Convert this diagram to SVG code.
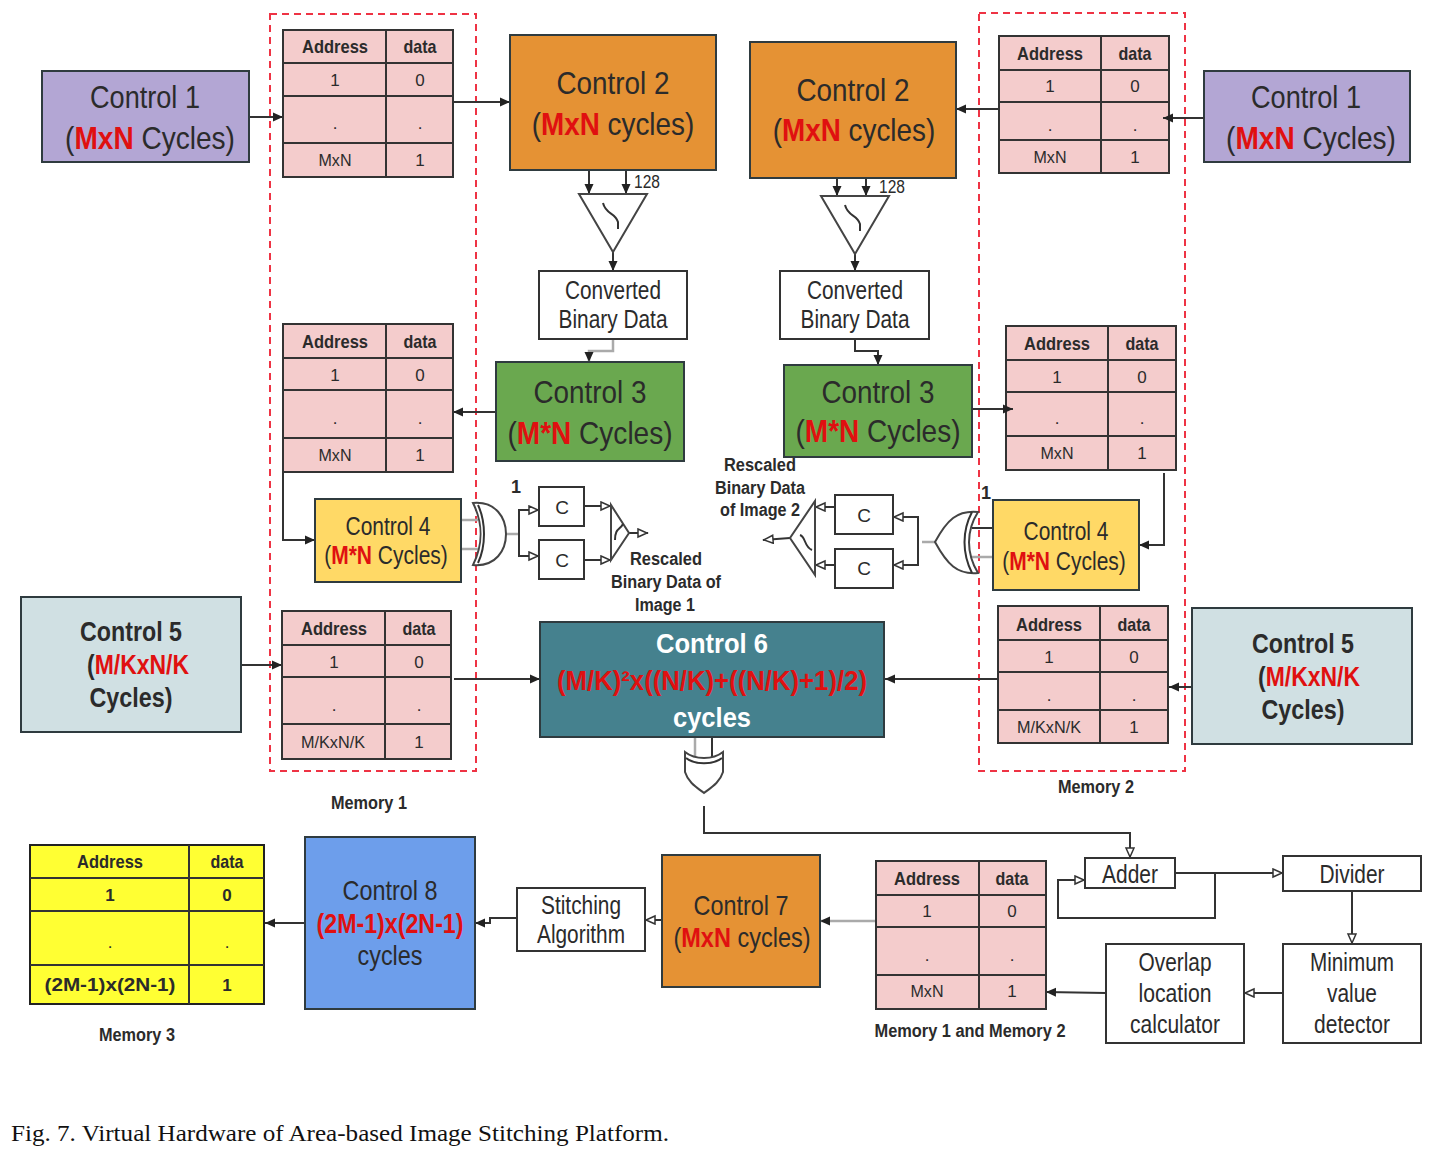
<svg xmlns="http://www.w3.org/2000/svg" width="1441" height="1150" viewBox="0 0 1441 1150">
<style>
text{font-family:"Liberation Sans",Arial,sans-serif;fill:#2b2b2b;text-anchor:middle}
.n{stroke:#2f3b3f;stroke-width:2}
.t{fill:#f4cccc;stroke:#333;stroke-width:2}
.y{fill:#ffff33;stroke:#222;stroke-width:2}
.g{fill:none;stroke:#333;stroke-width:2}
.c{fill:none;stroke:#333;stroke-width:2}
.lg{fill:none;stroke:#aaa;stroke-width:2.5}
.dash{fill:none;stroke:#ee3344;stroke-width:2;stroke-dasharray:7 5}
.h{font-size:19px;font-weight:bold}
.v{font-size:17px}
.xl{font-size:32px}
.l{font-size:25px}
.m{font-size:27px}
.s{font-size:28px}
.b{font-weight:bold}
.r{fill:#e01010;font-weight:bold}
.lab{font-size:18px;font-weight:bold}
.w{fill:#fff;font-weight:bold}
.box{fill:#fff;stroke:#333;stroke-width:2}
.gate{fill:#fff;stroke:#444;stroke-width:2}
</style>
<defs>
<marker id="a" markerWidth="11" markerHeight="11" refX="10" refY="5" orient="auto" markerUnits="userSpaceOnUse"><path d="M0 0.5L10 5L0 9.5Z" fill="#222"/></marker>
<marker id="o" markerWidth="12" markerHeight="12" refX="11" refY="5" orient="auto" markerUnits="userSpaceOnUse"><path d="M1 1L10 5L1 9Z" fill="#fff" stroke="#333" stroke-width="1.5"/></marker>
</defs>
<rect width="1441" height="1150" fill="#fff"/>
<g id="memory-bounds">
<rect class="dash" x="270" y="14" width="206" height="757"/>
<rect class="dash" x="979" y="13" width="206" height="758"/>
</g>
<g id="connectors">
<path class="c" marker-end="url(#a)" d="M249 117H283"/>
<path class="c" marker-end="url(#a)" d="M453 102H510"/>
<path class="c" marker-end="url(#a)" d="M589 170V194"/>
<path class="c" marker-end="url(#a)" d="M626 170V194"/>
<path class="c" marker-end="url(#a)" d="M613 252V271"/>
<path class="lg" marker-end="url(#a)" d="M613 339V351H589V362"/>
<path class="c" marker-end="url(#a)" d="M496 412H453"/>
<path class="c" marker-end="url(#a)" d="M283 472V540H315"/>
<path class="c" marker-end="url(#a)" d="M241 665H282"/>
<path class="c" marker-end="url(#a)" d="M454 679H540"/>
<path class="c" marker-end="url(#a)" d="M998 679H885"/>
<path class="c" marker-end="url(#a)" d="M1192 687H1169"/>
<path class="c" marker-end="url(#a)" d="M1164 473V545H1139"/>
<path class="c" marker-end="url(#a)" d="M999 109H956"/>
<path class="c" marker-end="url(#a)" d="M837 178V196"/>
<path class="c" marker-end="url(#a)" d="M866 178V196"/>
<path class="c" marker-end="url(#a)" d="M855 254V271"/>
<path class="c" marker-end="url(#a)" d="M855 339V351H878V365"/>
<path class="lg" d="M461 520H478M461 549H478M506 534H518"/>
<path class="c" marker-end="url(#o)" d="M519 534V510H539"/>
<path class="c" marker-end="url(#o)" d="M519 534V556H539"/>
<path class="c" marker-end="url(#o)" d="M584 506H611"/>
<path class="c" marker-end="url(#o)" d="M584 560H611"/>
<path class="c" marker-end="url(#o)" d="M629 533H648"/>
<path class="c" d="M972 528H993"/>
<path class="lg" d="M972 557H993M922 542H935"/>
<path class="c" marker-end="url(#o)" d="M918 542V517H893"/>
<path class="c" marker-end="url(#o)" d="M918 542V565H893"/>
<path class="c" marker-end="url(#o)" d="M835 507H815"/>
<path class="c" marker-end="url(#o)" d="M835 565H815"/>
<path class="c" marker-end="url(#o)" d="M790 538L763 540"/>
<path class="lg" d="M695 737V757"/>
<path class="c" d="M712 737V757"/>
<path class="c" marker-end="url(#o)" d="M704 806V833H1130V858"/>
<path class="c" marker-end="url(#o)" d="M1175 873H1283"/>
<path class="c" marker-end="url(#o)" d="M1215 873V918H1058V880H1085"/>
<path class="c" marker-end="url(#o)" d="M1352 891V944"/>
<path class="c" marker-end="url(#o)" d="M1283 993H1244"/>
<path class="c" marker-end="url(#a)" d="M1106 993L1046 992"/>
<path class="lg" marker-end="url(#a)" d="M876 921H820"/>
<path class="c" marker-end="url(#o)" d="M662 920H645"/>
<path class="c" marker-end="url(#a)" d="M517 918H490V923H475"/>
<path class="c" marker-end="url(#a)" d="M305 923H265"/>
</g>
<g id="control1-left"><rect class="n" x="42" y="71" width="207" height="91" fill="#b3a6d4"/><text class="xl" x="145" y="108" textLength="110" lengthAdjust="spacingAndGlyphs">Control 1</text><text class="xl" transform="translate(150 149) scale(.877 1)">(<tspan class="r">MxN</tspan> Cycles)</text></g>
<g id="control1-right"><rect class="n" x="1204" y="71" width="206" height="91" fill="#b3a6d4"/><text class="xl" x="1306" y="108" textLength="110" lengthAdjust="spacingAndGlyphs">Control 1</text><text class="xl" transform="translate(1311 149) scale(.877 1)">(<tspan class="r">MxN</tspan> Cycles)</text></g>
<g id="control2-left"><rect class="n" x="510" y="35" width="206" height="135" fill="#e59234"/><text class="xl" x="613" y="94" textLength="113" lengthAdjust="spacingAndGlyphs">Control 2</text><text class="xl" transform="translate(613 135) scale(.87 1)">(<tspan class="r">MxN</tspan> cycles)</text></g>
<g id="control2-right"><rect class="n" x="750" y="42" width="206" height="136" fill="#e59234"/><text class="xl" x="853" y="101" textLength="113" lengthAdjust="spacingAndGlyphs">Control 2</text><text class="xl" transform="translate(854 141) scale(.87 1)">(<tspan class="r">MxN</tspan> cycles)</text></g>
<g id="dac-left"><path class="gate" d="M579 194H647L613 252Z"/><path class="c" stroke-width="1.5" d="M603 203C606 215 615 212 618 222V229"/><text x="647" y="188" font-size="18" textLength="26" lengthAdjust="spacingAndGlyphs">128</text></g>
<g id="dac-right"><path class="gate" d="M821 196H889L855 254Z"/><path class="c" stroke-width="1.5" d="M845 205C848 217 857 214 860 224V231"/><text x="892" y="193" font-size="18" textLength="26" lengthAdjust="spacingAndGlyphs">128</text></g>
<g id="converted-left"><rect class="box" x="539" y="271" width="148" height="68"/><text class="l" x="613" y="299" textLength="96" lengthAdjust="spacingAndGlyphs">Converted</text><text class="l" x="613" y="328" textLength="109" lengthAdjust="spacingAndGlyphs">Binary Data</text></g>
<g id="converted-right"><rect class="box" x="780" y="271" width="149" height="68"/><text class="l" x="855" y="299" textLength="96" lengthAdjust="spacingAndGlyphs">Converted</text><text class="l" x="855" y="328" textLength="109" lengthAdjust="spacingAndGlyphs">Binary Data</text></g>
<g id="control3-left"><rect class="n" x="496" y="362" width="188" height="99" fill="#6aa84f"/><text class="xl" x="590" y="403" textLength="113" lengthAdjust="spacingAndGlyphs">Control 3</text><text class="xl" transform="translate(590 444) scale(.876 1)">(<tspan class="r">M*N</tspan> Cycles)</text></g>
<g id="control3-right"><rect class="n" x="784" y="365" width="188" height="92" fill="#6aa84f"/><text class="xl" x="878" y="403" textLength="113" lengthAdjust="spacingAndGlyphs">Control 3</text><text class="xl" transform="translate(878 442) scale(.876 1)">(<tspan class="r">M*N</tspan> Cycles)</text></g>
<g id="control4-left"><rect class="n" x="315" y="499" width="146" height="83" fill="#ffd966"/><text class="l" x="388" y="535" textLength="85" lengthAdjust="spacingAndGlyphs">Control 4</text><text class="l" transform="translate(386 564) scale(.84 1)">(<tspan class="r">M*N</tspan> Cycles)</text></g>
<g id="control4-right"><rect class="n" x="993" y="500" width="146" height="90" fill="#ffd966"/><text class="l" x="1066" y="540" textLength="85" lengthAdjust="spacingAndGlyphs">Control 4</text><text class="l" transform="translate(1064 570) scale(.84 1)">(<tspan class="r">M*N</tspan> Cycles)</text></g>
<g id="gate-left"><path class="gate" d="M473 503C496 501 506 518 506 534C506 550 496 567 473 565C483 545 483 523 473 503Z"/><path class="g" stroke-width="1.5" d="M478 505C486 522 486 546 478 563"/></g>
<g id="gate-right"><path class="gate" d="M978 512C957 510 947 520 935 542C947 564 957 575 978 573C966 553 966 531 978 512Z"/><path class="g" d="M972 512C962 531 962 553 972 573"/></g>
<g id="c1"><rect class="box" x="539" y="487" width="45" height="39"/><text x="562" y="514" font-size="19">C</text></g>
<g id="c2"><rect class="box" x="539" y="540" width="45" height="39"/><text x="562" y="567" font-size="19">C</text></g>
<g id="c3"><rect class="box" x="835" y="495" width="58" height="39"/><text x="864" y="522" font-size="19">C</text></g>
<g id="c4"><rect class="box" x="835" y="549" width="58" height="39"/><text x="864" y="575" font-size="19">C</text></g>
<g id="mux-left"><path class="gate" d="M611 505V560L629 533Z"/><path class="c" stroke-width="1.5" d="M615 540C615 528 620 530 623 524"/></g>
<g id="mux-right"><path class="gate" d="M815 501V575L790 538Z"/><path class="c" stroke-width="1.5" d="M800 535C806 537 804 547 812 550"/></g>
<g id="labels-rescale">
<text class="lab" x="516" y="493" textLength="9">1</text>
<text class="lab" x="986" y="499" textLength="9">1</text>
<text class="lab" x="666" y="565" textLength="72" lengthAdjust="spacingAndGlyphs">Rescaled</text>
<text class="lab" x="666" y="588" textLength="110" lengthAdjust="spacingAndGlyphs">Binary Data of</text>
<text class="lab" x="665" y="611" textLength="60" lengthAdjust="spacingAndGlyphs">Image 1</text>
<text class="lab" x="760" y="471" textLength="72" lengthAdjust="spacingAndGlyphs">Rescaled</text>
<text class="lab" x="760" y="494" textLength="90" lengthAdjust="spacingAndGlyphs">Binary Data</text>
<text class="lab" x="760" y="516" textLength="80" lengthAdjust="spacingAndGlyphs">of Image 2</text>
</g>
<g id="control5-left"><rect class="n" x="21" y="597" width="220" height="135" fill="#d0e0e3"/><text class="m b" x="131" y="641" textLength="102" lengthAdjust="spacingAndGlyphs">Control 5</text><text class="m b" transform="translate(138 674) scale(.85 1)">(<tspan class="r">M/KxN/K</tspan></text><text class="m b" x="131" y="707" textLength="83" lengthAdjust="spacingAndGlyphs">Cycles)</text></g>
<g id="control5-right"><rect class="n" x="1192" y="608" width="220" height="136" fill="#d0e0e3"/><text class="m b" x="1303" y="653" textLength="102" lengthAdjust="spacingAndGlyphs">Control 5</text><text class="m b" transform="translate(1309 686) scale(.85 1)">(<tspan class="r">M/KxN/K</tspan></text><text class="m b" x="1303" y="719" textLength="83" lengthAdjust="spacingAndGlyphs">Cycles)</text></g>
<g id="control6"><rect class="n" x="540" y="622" width="344" height="115" fill="#45818e"/><text class="m w" x="712" y="653" textLength="112" lengthAdjust="spacingAndGlyphs">Control 6</text><text class="m r" x="712" y="690" textLength="310" lengthAdjust="spacingAndGlyphs">(M/K)²x((N/K)+((N/K)+1)/2)</text><text class="m w" x="712" y="727" textLength="78" lengthAdjust="spacingAndGlyphs">cycles</text></g>
<g id="xor-bottom"><path class="gate" d="M685 752C695 760 713 760 723 752V772C720 782 712 787 704 793C696 787 688 782 685 772Z"/><path class="g" stroke-width="1.5" d="M686 758C695 765 713 765 722 758"/></g>
<g id="control7"><rect class="n" x="662" y="855" width="158" height="132" fill="#e59234"/><text class="s" x="741" y="915" textLength="95" lengthAdjust="spacingAndGlyphs">Control 7</text><text class="s" transform="translate(742 947) scale(.84 1)">(<tspan class="r">MxN</tspan> cycles)</text></g>
<g id="control8"><rect class="n" x="305" y="837" width="170" height="172" fill="#6d9eeb"/><text class="s" x="390" y="900" textLength="95" lengthAdjust="spacingAndGlyphs">Control 8</text><text class="s r" x="390" y="933" textLength="147" lengthAdjust="spacingAndGlyphs">(2M-1)x(2N-1)</text><text class="s" x="390" y="965" textLength="65" lengthAdjust="spacingAndGlyphs">cycles</text></g>
<g id="stitching"><rect class="box" x="517" y="888" width="128" height="63"/><text class="l" x="581" y="914" textLength="80" lengthAdjust="spacingAndGlyphs">Stitching</text><text class="l" x="581" y="943" textLength="88" lengthAdjust="spacingAndGlyphs">Algorithm</text></g>
<g id="adder"><rect class="box" x="1085" y="858" width="90" height="30"/><text class="l" x="1130" y="883" textLength="56" lengthAdjust="spacingAndGlyphs">Adder</text></g>
<g id="divider"><rect class="box" x="1283" y="856" width="138" height="35"/><text class="l" x="1352" y="883" textLength="65" lengthAdjust="spacingAndGlyphs">Divider</text></g>
<g id="min-detector"><rect class="box" x="1283" y="944" width="138" height="99"/><text class="l" x="1352" y="971" textLength="84" lengthAdjust="spacingAndGlyphs">Minimum</text><text class="l" x="1352" y="1002" textLength="50" lengthAdjust="spacingAndGlyphs">value</text><text class="l" x="1352" y="1033" textLength="76" lengthAdjust="spacingAndGlyphs">detector</text></g>
<g id="overlap"><rect class="box" x="1106" y="944" width="138" height="99"/><text class="l" x="1175" y="971" textLength="73" lengthAdjust="spacingAndGlyphs">Overlap</text><text class="l" x="1175" y="1002" textLength="73" lengthAdjust="spacingAndGlyphs">location</text><text class="l" x="1175" y="1033" textLength="90" lengthAdjust="spacingAndGlyphs">calculator</text></g>
<g id="table-l1"><rect class="t" x="283" y="30" width="170" height="147"/><path class="g" d="M283 63H453M283 96H453M283 143H453M386 30V177"/><text class="h" x="335" y="53" textLength="66" lengthAdjust="spacingAndGlyphs">Address</text><text class="h" x="420" y="53" textLength="33" lengthAdjust="spacingAndGlyphs">data</text><text class="v" x="335" y="86">1</text><text class="v" x="420" y="86">0</text><text class="v" x="335" y="129">.</text><text class="v" x="420" y="129">.</text><text class="v" x="335" y="166" textLength="33" lengthAdjust="spacingAndGlyphs">MxN</text><text class="v" x="420" y="166">1</text></g>
<g id="table-l2"><rect class="t" x="283" y="324" width="170" height="148"/><path class="g" d="M283 358H453M283 390H453M283 438H453M386 324V472"/><text class="h" x="335" y="348" textLength="66" lengthAdjust="spacingAndGlyphs">Address</text><text class="h" x="420" y="348" textLength="33" lengthAdjust="spacingAndGlyphs">data</text><text class="v" x="335" y="381">1</text><text class="v" x="420" y="381">0</text><text class="v" x="335" y="424">.</text><text class="v" x="420" y="424">.</text><text class="v" x="335" y="461" textLength="33" lengthAdjust="spacingAndGlyphs">MxN</text><text class="v" x="420" y="461">1</text></g>
<g id="table-l3"><rect class="t" x="282" y="611" width="169" height="148"/><path class="g" d="M282 645H451M282 677H451M282 724H451M385 611V759"/><text class="h" x="334" y="635" textLength="66" lengthAdjust="spacingAndGlyphs">Address</text><text class="h" x="419" y="635" textLength="33" lengthAdjust="spacingAndGlyphs">data</text><text class="v" x="334" y="668">1</text><text class="v" x="419" y="668">0</text><text class="v" x="334" y="711">.</text><text class="v" x="419" y="711">.</text><text class="v" x="333" y="748" textLength="64" lengthAdjust="spacingAndGlyphs">M/KxN/K</text><text class="v" x="419" y="748">1</text></g>
<g id="table-r1"><rect class="t" x="999" y="36" width="170" height="137"/><path class="g" d="M999 70H1169M999 102H1169M999 140H1169M1101 36V173"/><text class="h" x="1050" y="60" textLength="66" lengthAdjust="spacingAndGlyphs">Address</text><text class="h" x="1135" y="60" textLength="33" lengthAdjust="spacingAndGlyphs">data</text><text class="v" x="1050" y="92">1</text><text class="v" x="1135" y="92">0</text><text class="v" x="1050" y="131">.</text><text class="v" x="1135" y="131">.</text><text class="v" x="1050" y="163" textLength="33" lengthAdjust="spacingAndGlyphs">MxN</text><text class="v" x="1135" y="163">1</text></g>
<g id="table-r2"><rect class="t" x="1006" y="326" width="170" height="144"/><path class="g" d="M1006 360H1176M1006 392H1176M1006 436H1176M1108 326V470"/><text class="h" x="1057" y="350" textLength="66" lengthAdjust="spacingAndGlyphs">Address</text><text class="h" x="1142" y="350" textLength="33" lengthAdjust="spacingAndGlyphs">data</text><text class="v" x="1057" y="383">1</text><text class="v" x="1142" y="383">0</text><text class="v" x="1057" y="424">.</text><text class="v" x="1142" y="424">.</text><text class="v" x="1057" y="459" textLength="33" lengthAdjust="spacingAndGlyphs">MxN</text><text class="v" x="1142" y="459">1</text></g>
<g id="table-r3"><rect class="t" x="998" y="606" width="170" height="137"/><path class="g" d="M998 640H1168M998 672H1168M998 710H1168M1100 606V743"/><text class="h" x="1049" y="631" textLength="66" lengthAdjust="spacingAndGlyphs">Address</text><text class="h" x="1134" y="631" textLength="33" lengthAdjust="spacingAndGlyphs">data</text><text class="v" x="1049" y="663">1</text><text class="v" x="1134" y="663">0</text><text class="v" x="1049" y="701">.</text><text class="v" x="1134" y="701">.</text><text class="v" x="1049" y="733" textLength="64" lengthAdjust="spacingAndGlyphs">M/KxN/K</text><text class="v" x="1134" y="733">1</text></g>
<g id="table-m3"><rect class="y" x="30" y="845" width="234" height="159"/><path class="g" d="M30 878H264M30 911H264M30 965H264M189 845V1004"/><text class="h" x="110" y="868" textLength="66" lengthAdjust="spacingAndGlyphs">Address</text><text class="h" x="227" y="868" textLength="33" lengthAdjust="spacingAndGlyphs">data</text><text class="v b" x="110" y="901">1</text><text class="v b" x="227" y="901">0</text><text class="v" x="110" y="948">.</text><text class="v" x="227" y="948">.</text><text class="h" x="110" y="991" textLength="131" lengthAdjust="spacingAndGlyphs">(2M-1)x(2N-1)</text><text class="v b" x="227" y="991">1</text></g>
<g id="table-b"><rect class="t" x="876" y="861" width="170" height="148"/><path class="g" d="M876 895H1046M876 927H1046M876 975H1046M979 861V1009"/><text class="h" x="927" y="885" textLength="66" lengthAdjust="spacingAndGlyphs">Address</text><text class="h" x="1012" y="885" textLength="33" lengthAdjust="spacingAndGlyphs">data</text><text class="v" x="927" y="917">1</text><text class="v" x="1012" y="917">0</text><text class="v" x="927" y="961">.</text><text class="v" x="1012" y="961">.</text><text class="v" x="927" y="997" textLength="33" lengthAdjust="spacingAndGlyphs">MxN</text><text class="v" x="1012" y="997">1</text></g>
<g id="connectors-over-tables">
<path class="c" marker-end="url(#a)" d="M972 409H1013"/>
<path class="c" marker-end="url(#a)" d="M1204 118H1163"/>
</g>
<g id="captions">
<text class="lab" x="369" y="809" textLength="76" lengthAdjust="spacingAndGlyphs">Memory 1</text>
<text class="lab" x="1096" y="793" textLength="76" lengthAdjust="spacingAndGlyphs">Memory 2</text>
<text class="lab" x="137" y="1041" textLength="76" lengthAdjust="spacingAndGlyphs">Memory 3</text>
<text class="lab" x="970" y="1037" textLength="191" lengthAdjust="spacingAndGlyphs">Memory 1 and Memory 2</text>
<text x="11" y="1141" font-size="24" textLength="658" lengthAdjust="spacingAndGlyphs" style="font-family:'Liberation Serif','Times New Roman',serif;text-anchor:start;fill:#111">Fig. 7. Virtual Hardware of Area-based Image Stitching Platform.</text>
</g>
</svg>
